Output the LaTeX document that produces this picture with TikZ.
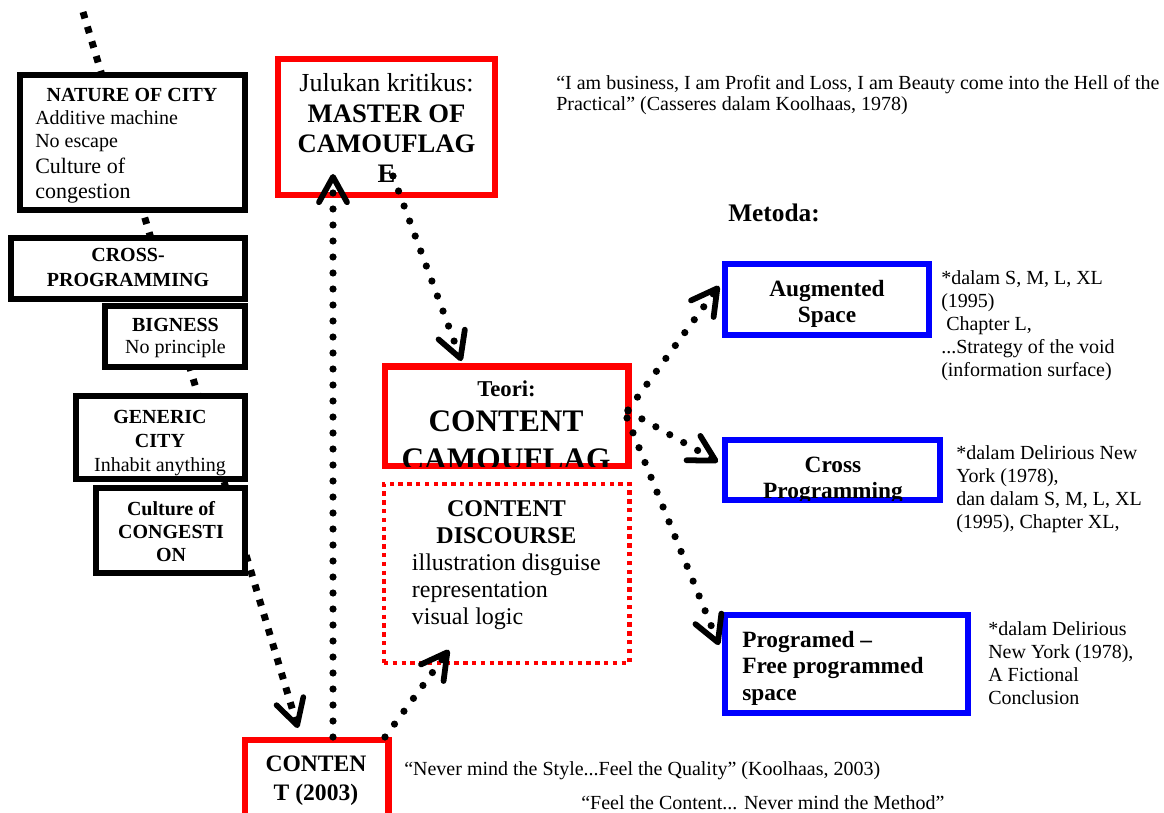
\documentclass[tikz,border=0pt]{standalone}
\usepackage{fontspec}
\setmainfont{Liberation Serif}
\usetikzlibrary{arrows.meta,fit}
\newcommand\ctab[1]{\begin{tabular}[t]{@{}c@{}}#1\end{tabular}}
\newcommand\ltab[1]{\begin{tabular}[t]{@{}l@{}}#1\end{tabular}}
\newcommand\fsz[2]{\fontsize{#1}{#2}\selectfont}
\newcommand\inclip[1]{\clip ([shift={(3,3)}]#1.north west) rectangle ([shift={(-3,-3)}]#1.south east);}
\tikzset{
  bx/.style={rectangle, inner sep=0pt, fill=white, line width=4.5pt},
  blackbox/.style={bx, draw=black},
  redbox/.style={bx, draw=red, line width=4.8pt},
  bluebox/.style={bx, draw=blue, line width=4.5pt},
  reddotbox/.style={bx, draw=red, line width=3.3pt, dash pattern=on 3.3pt off 3.3pt},
  ctxt/.style={inner sep=0pt, anchor=base},
  ltxt/.style={inner sep=0pt, anchor=base west},
  veetip/.style={-{Straight Barb[length=19pt, width=21pt, line width=0pt 0.8, round]}},
  dotline/.style={line width=5.4pt, line cap=round, dash pattern=on 0pt off 12pt, veetip},
  sqline/.style={line width=5.2pt, dash pattern=on 5pt off 6.5pt, veetip},
}
\begin{document}
\begin{tikzpicture}[x=0.75pt, y=-0.75pt]
\useasboundingbox (0,0) rectangle (1164,813);
% long square-dotted line behind the left boxes
\coordinate (sqA) at (83,12);
\coordinate (sqB) at (298,728);
\draw[sqline] (sqA) -- (sqB);

% boxes
\node[blackbox, fit={(19.7,74.7) (245,210)}] (nature) {};
\node[blackbox, fit={(11.3,238) (245,298.7)}] (cross) {};
\node[blackbox, fit={(104.7,306) (245,367)}] (big) {};
\node[blackbox, fit={(76.3,396.3) (245,479)}] (generic) {};
\node[blackbox, fit={(96.3,488) (245.3,573)}] (congest) {};
\node[redbox, fit={(278.2,59.2) (495.1,195.1)}] (master) {};
\node[redbox, fit={(385,366.5) (628.5,466)}] (teori) {};
\node[reddotbox, fit={(383.9,483.9) (629.5,662.8)}] (discourse) {};
\node[redbox, fit={(244.9,739.9) (388.5,830)}] (content) {};
\node[bluebox, fit={(725,264) (929,335)}] (aug) {};
\node[bluebox, fit={(725,440) (940,500)}] (xprog) {};
\node[bluebox, fit={(725,615) (968,713)}] (freeprog) {};

% box texts (clipped to box interiors)
\begin{scope}\inclip{nature}
\node[ctxt, font=\fsz{15}{17.25}\bfseries] (natureT) at (132,101.7) {NATURE OF CITY};
\node[ltxt, font=\fsz{15}{17}] (natureA) at (35,125) {\ltab{Additive machine\\No escape}};
\node[ltxt, font=\fsz{16.5}{18.75}] (natureB) at (35,174) {\ltab{Culture of\\congestion}};
\end{scope}
\begin{scope}\inclip{cross}
\node[ctxt, font=\fsz{15}{18.75}\bfseries] (crossT) at (128,261.7) {\ctab{CROSS-\\PROGRAMMING}};
\end{scope}
\begin{scope}\inclip{big}
\node[ctxt, font=\fsz{15}{16.2}] (bigT) at (175.5,331.7) {\ctab{\textbf{BIGNESS}\\No principle}};
\end{scope}
\begin{scope}\inclip{generic}
\node[ctxt, font=\fsz{15}{18}] (genericT) at (160,423.3) {\ctab{\textbf{GENERIC}\\\textbf{CITY}\\Inhabit anything}};
\end{scope}
\begin{scope}\inclip{congest}
\node[ctxt, font=\fsz{15}{17.25}\bfseries] (congestT) at (171,515.7) {\ctab{Culture of\\CONGESTI\\ON}};
\end{scope}
\begin{scope}\inclip{master}
\node[ctxt, font=\fsz{20}{22.75}\bfseries] (masterT) at (386.5,92) {\ctab{\textmd{\fsz{19.5}{22.75}Julukan kritikus:}\\MASTER OF\\CAMOUFLAG\\E}};
\end{scope}
\begin{scope}\inclip{teori}
\node[ctxt, font=\fsz{17}{20}\bfseries] (teoriT) at (506.5,396.7) {Teori:};
\node[ctxt, font=\fsz{23.5}{28}\bfseries] (teoriB) at (506,431.7) {\ctab{CONTENT\\CAMOUFLAG}};
\end{scope}
\begin{scope}\inclip{discourse}
\node[ctxt, font=\fsz{18}{20}\bfseries] (discT) at (506.5,516.7) {\ctab{CONTENT\\DISCOURSE}};
\node[ltxt, font=\fsz{18}{20.5}] (discB) at (411.7,570) {\ltab{illustration disguise\\representation\\visual logic}};
\end{scope}
\begin{scope}\inclip{content}
\node[ctxt, font=\fsz{17.7}{21.25}\bfseries] (contentT) at (316,771.7) {\ctab{CONTEN\\T (2003)}};
\end{scope}
\begin{scope}\inclip{aug}
\node[ctxt, font=\fsz{17.5}{20}\bfseries] (augT) at (827,296) {\ctab{Augmented\\Space}};
\end{scope}
\begin{scope}\inclip{xprog}
\node[ctxt, font=\fsz{17.5}{20}\bfseries] (xprogT) at (833,472) {\ctab{Cross\\Programming}};
\end{scope}
\begin{scope}\inclip{freeprog}
\node[ltxt, font=\fsz{17.5}{20}\bfseries] (freeprogT) at (742,647) {\ltab{Programed –\\Free programmed\\space}};
\end{scope}

% free texts
\node[ltxt, font=\fsz{15}{15.75}] (quoteTop) at (556,90) {\ltab{“I am business, I am Profit and Loss, I am Beauty come into the Hell of the\\Practical” (Casseres dalam Koolhaas, 1978)}};
\node[ltxt, font=\fsz{19}{22}\bfseries] (metoda) at (728,222) {Metoda:};
\node[ltxt, font=\fsz{15}{17.25}] (note1) at (941,284) {\ltab{*dalam S, M, L, XL\\(1995)\\\hspace{0.25em}Chapter L,\\...Strategy of the void\\(information surface)}};
\node[ltxt, font=\fsz{15}{17.25}] (note2) at (956,459) {\ltab{*dalam Delirious New\\York (1978),\\dan dalam S, M, L, XL\\(1995), Chapter XL,}};
\node[ltxt, font=\fsz{15}{17.25}] (note3) at (988,635) {\ltab{*dalam Delirious\\New York (1978),\\A Fictional\\Conclusion}};
\node[ltxt, font=\fsz{15}{17.25}] (quoteB1) at (404,775) {“Never mind the Style...Feel the Quality” (Koolhaas, 2003)};
\node[ltxt, font=\fsz{15}{17.25}] (quoteB2) at (581,809) {“Feel the Content... Never mind the Method”};

% connectors
\coordinate (upS) at (333,737);
\coordinate (upE) at (333,174);
\draw[dotline] (upS) -- (upE);
\coordinate (mtS) at (393,176);
\coordinate (mtE) at (461.5,361);
\draw[dotline] (mtS) -- (mtE);
\coordinate (cdS) at (385,737);
\coordinate (cdE) at (449,650);
\draw[dotline] (cdS) -- (cdE);
\coordinate (taS) at (628,410);
\coordinate (taE) at (719,286);
\draw[dotline] (taS) -- (taE);
\coordinate (txS) at (628,411);
\coordinate (txE) at (718,462);
\draw[dotline] (txS) -- (txE);
\coordinate (tfS) at (627,418);
\coordinate (tfE) at (719,645);
\draw[dotline] (tfS) -- (tfE);
\end{tikzpicture}
\end{document}
